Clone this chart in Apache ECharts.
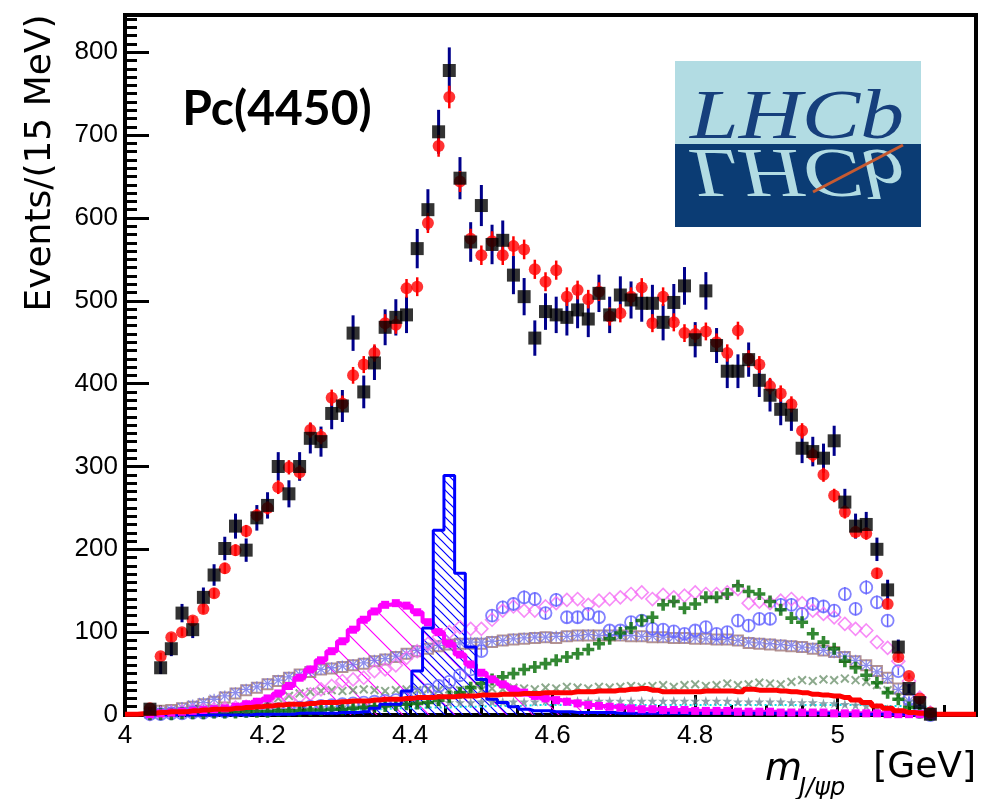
<!DOCTYPE html>
<html>
<head>
<meta charset="utf-8">
<title>Pc(4450) – m(J/ψp)</title>
<script src="https://cdn.jsdelivr.net/npm/echarts@6/dist/echarts.min.js"></script>
<style>
  html, body { margin: 0; padding: 0; background: #fff; }
  #chart { width: 988px; height: 799px; }
</style>
</head>
<body>
<div id="chart"></div>
<script>
// 15 MeV bins, first bin centre at 4.035 GeV
const binStart = 4.035
const binWidth = 0.015
const massBins = Array.from({ length: 74 }, (_, i) => +(binStart + binWidth * i).toFixed(4))

// data (black squares)
const dataCounts = [
  7, 57, 80, 123, 103, 142, 169, 201, 228, 199,
  238, 253, 300, 267, 300, 334, 330, 364, 373, 461,
  390, 425, 468, 480, 483, 563, 610, 704, 778, 648,
  571, 615, 568, 573, 531, 505, 455, 487, 483, 480,
  489, 478, 509, 483, 507, 501, 497, 497, 474, 498,
  518, 453, 512, 446, 415, 415, 429, 404, 386, 369,
  362, 322, 318, 310, 331, 257, 228, 230, 200, 151,
  82, 32, 15, 1
]
// total fit (red circles)
const fitTotal = [
  8, 71, 94, 100, 114, 128, 147, 177, 199, 222,
  241, 250, 275, 299, 293, 344, 336, 383, 376, 410,
  423, 437, 473, 471, 515, 517, 594, 687, 746, 644,
  575, 555, 572, 555, 566, 562, 538, 523, 537, 505,
  513, 502, 511, 481, 485, 505, 516, 473, 505, 474,
  461, 460, 463, 450, 437, 464, 430, 423, 397, 388,
  375, 343, 314, 290, 265, 245, 221, 219, 171, 134,
  70, 47, 20, 3
]
// Pc(4450) component (blue hatched)
const pc4450 = [
  0, 0, 0, 0, 0, 0, 0, 0, 0, 0,
  1, 1, 1, 1, 2, 2, 2, 2, 3, 3,
  4, 8, 13, 13, 29, 53, 105, 223, 289, 171,
  82, 43, 19, 15, 10, 7, 5, 5, 4, 4,
  3, 3, 3, 3, 2, 2, 2, 2, 2, 2,
  2, 2, 2, 2, 2, 2, 2, 2, 2, 2,
  2, 2, 2, 2, 1, 1, 1, 1, 1, 1,
  1, 1, 1, 0
]
// Pc(4380) component (magenta hatched)
const pc4380 = [
  1, 2, 3, 4, 5, 6, 7, 8, 10, 13,
  16, 20, 26, 35, 45, 55, 66, 77, 89, 103,
  115, 125, 133, 135, 132, 124, 112, 100, 86, 73,
  61, 51, 43, 37, 31, 27, 23, 20, 18, 16,
  14, 12, 11, 10, 9, 8, 7, 7, 6, 6,
  6, 5, 5, 5, 5, 4, 4, 4, 4, 3,
  3, 3, 3, 3, 2, 2, 2, 2, 2, 1,
  1, 1, 1, 0
]
// Lambda* components
const greenCross = [
  1, 1, 1, 2, 2, 2, 3, 3, 3, 4,
  4, 4, 5, 5, 5, 6, 6, 7, 7, 8,
  9, 10, 11, 12, 13, 14, 15, 18, 22, 27,
  33, 38, 43, 46, 50, 55, 58, 62, 66, 70,
  74, 79, 86, 92, 99, 105, 114, 118, 133, 137,
  129, 134, 142, 142, 146, 156, 149, 146, 137, 127,
  117, 112, 98, 88, 80, 65, 57, 48, 39, 27,
  19, 9, 3, 0
]
const blueCircle = [
  1, 1, 2, 2, 3, 3, 4, 4, 5, 5,
  6, 6, 7, 8, 9, 10, 11, 12, 13, 14,
  15, 16, 17, 18, 20, 25, 30, 35, 40, 48,
  55, 77, 120, 130, 134, 142, 140, 123, 139, 118,
  118, 122, 118, 102, 102, 112, 114, 104, 103, 101,
  98, 102, 106, 98, 100, 114, 108, 116, 116, 133,
  133, 122, 134, 131, 126, 146, 128, 154, 136, 114,
  53, 19, 4, 0
]
const pinkDiamond = [
  1, 2, 3, 4, 5, 6, 7, 8, 9, 10,
  12, 14, 16, 18, 22, 25, 31, 35, 41, 43,
  45, 53, 55, 60, 69, 77, 86, 94, 100, 106,
  104, 104, 115, 126, 131, 126, 126, 131, 135, 139,
  140, 133, 138, 140, 142, 146, 148, 140, 145, 142,
  144, 148, 146, 146, 148, 152, 135, 137, 135, 138,
  140, 135, 126, 122, 118, 110, 104, 102, 88, 81,
  65, 41, 21, 3
]
const brownSquare = [
  3, 5, 6, 8, 10, 13, 16, 21, 26, 30,
  33, 37, 41, 45, 49, 52, 55, 56, 58, 60,
  62, 65, 67, 70, 74, 77, 80, 83, 85, 86,
  86, 86, 88, 90, 91, 92, 93, 94, 93, 95,
  96, 96, 96, 96, 96, 95, 95, 94, 94, 93,
  93, 92, 92, 91, 91, 90, 87, 86, 85, 84,
  83, 82, 80, 78, 76, 70, 65, 60, 53, 45,
  32, 18, 8, 1
]
const violetStar = [
  2, 4, 6, 9, 12, 15, 19, 23, 27, 31,
  34, 38, 42, 46, 49, 53, 55, 57, 59, 61,
  63, 66, 68, 71, 74, 78, 81, 84, 86, 87,
  88, 88, 89, 90, 92, 93, 94, 94, 95, 95,
  96, 97, 96, 97, 96, 96, 95, 95, 94, 94,
  93, 93, 92, 91, 91, 90, 88, 87, 86, 85,
  84, 82, 81, 78, 75, 71, 66, 60, 52, 44,
  31, 17, 7, 1
]
const grayCross = [
  2, 3, 4, 5, 6, 7, 8, 9, 10, 12,
  14, 17, 20, 23, 26, 28, 29, 30, 29, 30,
  31, 30, 29, 30, 31, 30, 31, 30, 31, 30,
  31, 30, 32, 31, 33, 32, 31, 33, 32, 34,
  33, 32, 34, 33, 34, 35, 34, 35, 36, 34,
  36, 37, 35, 36, 38, 36, 37, 39, 38, 37,
  40, 42, 41, 43, 42, 44, 42, 40, 36, 30,
  22, 14, 6, 1
]
const nonResonant = [
  2, 3, 4, 4, 5, 6, 7, 7, 8, 9,
  10, 11, 12, 13, 13, 14, 15, 15, 16, 17,
  17, 18, 19, 19, 20, 21, 21, 22, 22, 23,
  23, 24, 24, 25, 25, 26, 26, 27, 27, 27,
  28, 28, 29, 29, 30, 31, 32, 30, 28, 28,
  28, 28, 29, 29, 29, 28, 31, 30, 30, 29,
  28, 27, 25, 24, 23, 21, 18, 15, 11, 8,
  5, 3, 2, 1
]
const grayStar = [
  1, 1, 2, 2, 3, 3, 4, 4, 5, 5,
  6, 6, 7, 7, 8, 8, 9, 9, 10, 10,
  11, 11, 12, 12, 13, 13, 14, 14, 15, 15,
  15, 16, 16, 16, 16, 16, 16, 17, 17, 17,
  17, 17, 17, 17, 17, 17, 17, 17, 17, 17,
  17, 17, 17, 17, 17, 16, 16, 16, 16, 16,
  15, 15, 15, 14, 14, 13, 12, 11, 9, 7,
  5, 3, 1, 0
]
const cyanLine = [
  0, 0, 1, 1, 1, 2, 2, 2, 3, 3,
  3, 4, 4, 4, 5, 5, 5, 6, 6, 6,
  7, 7, 7, 8, 8, 8, 9, 9, 9, 10,
  10, 10, 11, 11, 11, 11, 12, 12, 12, 12,
  12, 12, 12, 12, 12, 12, 12, 12, 12, 12,
  12, 12, 12, 12, 12, 12, 12, 12, 12, 12,
  12, 12, 12, 12, 12, 12, 12, 12, 11, 11,
  11, 11, 10, 10
]

const xTickLabels = ['4', '4.2', '4.4', '4.6', '4.8', '5']
const yTickLabels = ['0', '100', '200', '300', '400', '500', '600', '700', '800']

function pairs(values) {
  return massBins.map((m, i) => [m, values[i]])
}

// red fit line reaches the frame on both sides
const nonResonantLine = [[4.0, 1]].concat(pairs(nonResonant), [[5.194, 1]])

function hatch(size, color) {
  const c = document.createElement('canvas')
  c.width = size
  c.height = size
  const ctx = c.getContext('2d')
  ctx.strokeStyle = color
  ctx.lineWidth = 1.2
  ctx.beginPath()
  ctx.moveTo(-1, -1); ctx.lineTo(size + 1, size + 1)
  ctx.moveTo(-1, size - 1); ctx.lineTo(1, size + 1)
  ctx.moveTo(size - 1, -1); ctx.lineTo(size + 1, 1)
  ctx.stroke()
  return { image: c, repeat: 'repeat' }
}

function errorBars(values, scale, color, width, z) {
  return {
    type: 'custom',
    z: z,
    silent: true,
    clip: true,
    renderItem(params, api) {
      const a = api.coord([api.value(0), api.value(2)])
      const b = api.coord([api.value(0), api.value(1)])
      return {
        type: 'line',
        shape: { x1: a[0], y1: a[1], x2: b[0], y2: b[1] },
        style: { stroke: color, lineWidth: width }
      }
    },
    encode: { x: 0, y: [1, 2] },
    data: values.map((v, i) => {
      const e = Math.sqrt(v) * scale
      return [massBins[i], v - e, v + e]
    })
  }
}

function markers(values, symbol, size, style, z, rotate) {
  return {
    type: 'scatter',
    z: z,
    silent: true,
    symbol: symbol,
    symbolSize: size,
    symbolRotate: rotate || 0,
    itemStyle: style,
    data: pairs(values)
  }
}

const plusPath = 'path://M3.5,0H6.5V3.5H10V6.5H6.5V10H3.5V6.5H0V3.5H3.5Z'
const thinPlusPath = 'path://M4.1,0H5.9V4.1H10V5.9H5.9V10H4.1V5.9H0V4.1H4.1Z'
const asteriskPath = 'path://M4.4,0H5.6V10H4.4Z M0,4.4H10V5.6H0Z M1.2,0.4L9.6,8.8L8.8,9.6L0.4,1.2Z M8.8,0.4L9.6,1.2L1.2,9.6L0.4,8.8Z'
const starPath = 'path://M5,0L6.2,3.6L10,3.6L6.9,5.9L8.1,9.5L5,7.3L1.9,9.5L3.1,5.9L0,3.6L3.8,3.6Z'

const tickFont = '"Liberation Sans", Arial, sans-serif'

const chart = echarts.init(document.getElementById('chart'))

chart.setOption({
  animation: false,
  backgroundColor: '#fff',
  grid: {
    left: 125, right: 12, top: 15, bottom: 84,
    show: true, borderColor: '#000', borderWidth: 4
  },
  xAxis: [
    {
      type: 'value', min: 4, max: 5.194, interval: 0.2,
      axisLine: { lineStyle: { color: '#000', width: 4 } },
      axisTick: { inside: true, length: 20, lineStyle: { color: '#000', width: 3 } },
      axisLabel: {
        color: '#000', fontSize: 26, fontFamily: tickFont, margin: 8,
        showMaxLabel: false,
        formatter: v => {
          const s = String(+v.toFixed(1))
          return xTickLabels.includes(s) ? s : ''
        }
      },
      splitLine: { show: false }
    },
    {
      // minor ticks every 50 MeV
      type: 'value', min: 4, max: 5.194, interval: 0.05, position: 'bottom',
      axisLine: { show: false },
      axisTick: { inside: true, length: 10, lineStyle: { color: '#000', width: 3 } },
      axisLabel: { show: false },
      splitLine: { show: false }
    }
  ],
  yAxis: [
    {
      type: 'value', min: 0, max: 845, interval: 100,
      axisLine: { show: true, lineStyle: { color: '#000', width: 4 } },
      axisTick: { show: true, inside: true, length: 24, lineStyle: { color: '#000', width: 3 } },
      axisLabel: {
        color: '#000', fontSize: 26, fontFamily: tickFont, margin: 7,
        showMaxLabel: false,
        formatter: v => (yTickLabels.includes(String(v)) ? String(v) : '')
      },
      splitLine: { show: false }
    },
    {
      // minor ticks every 10 events
      type: 'value', min: 0, max: 845, interval: 10, position: 'left',
      axisLine: { show: false },
      axisTick: { show: true, inside: true, length: 12, lineStyle: { color: '#000', width: 3 } },
      axisLabel: { show: false },
      splitLine: { show: false }
    }
  ],
  series: [
    {
      type: 'line', z: 1, silent: true, step: 'middle', symbol: 'none',
      lineStyle: { width: 0 },
      areaStyle: { color: hatch(26, '#ff00ff'), opacity: 1 },
      data: pairs(pc4380)
    },
    {
      type: 'line', z: 1, silent: true, step: 'middle', symbol: 'none',
      lineStyle: { width: 0 },
      areaStyle: { color: hatch(9, '#0000ff'), opacity: 1 },
      data: pairs(pc4450)
    },
    {
      type: 'line', z: 2, silent: true, symbol: 'none',
      lineStyle: { color: '#00e0ea', width: 2, type: [2, 3] },
      data: pairs(cyanLine)
    },
    markers(grayStar, starPath, 10, { color: '#6f8b95' }, 2),
    markers(grayCross, thinPlusPath, 11, { color: '#6f946f' }, 3, 45),
    markers(brownSquare, 'rect', 10, { color: 'rgba(0,0,0,0)', borderColor: '#a07878', borderWidth: 2 }, 3),
    markers(violetStar, asteriskPath, 11, { color: '#7272e8' }, 3),
    markers(pinkDiamond, 'diamond', 13, { color: 'rgba(0,0,0,0)', borderColor: '#f56ef5', borderWidth: 1.6 }, 4),
    errorBars(blueCircle, 0.7, '#6464ff', 1.5, 4),
    markers(blueCircle, 'circle', 12, { color: 'rgba(0,0,0,0)', borderColor: '#6464ff', borderWidth: 1.8 }, 4),
    markers(greenCross, plusPath, 12, { color: '#006a00' }, 5),
    {
      type: 'line', z: 6, silent: true, step: 'middle',
      symbol: 'rect', symbolSize: 8, showSymbol: true,
      itemStyle: { color: '#ff00ff' },
      lineStyle: { color: '#ff00ff', width: 4 },
      data: pairs(pc4380)
    },
    {
      type: 'line', z: 6, silent: true, step: 'middle', symbol: 'none',
      lineStyle: { color: '#0000ff', width: 3 },
      data: pairs(pc4450)
    },
    {
      type: 'line', z: 7, silent: true, step: 'middle', symbol: 'none',
      lineStyle: { color: '#ff0000', width: 5 },
      data: nonResonantLine
    },
    errorBars(dataCounts, 1, '#00008b', 3, 8),
    errorBars(fitTotal, 0.5, '#ff0000', 2.5, 9),
    markers(fitTotal, 'circle', 12, { color: '#ff0000' }, 9),
    markers(dataCounts, 'rect', 13, { color: '#000' }, 10)
  ],
  graphic: [
    {
      type: 'text', x: 41, y: 163, rotation: Math.PI / 2, silent: true,
      style: {
        text: 'Events/(15 MeV)', font: '36px "DejaVu Sans", sans-serif', fill: '#000',
        align: 'center', verticalAlign: 'middle', textAlign: 'center', textVerticalAlign: 'middle'
      }
    },
    {
      type: 'text', x: 765, y: 770, silent: true,
      style: {
        text: 'm', font: 'italic 38px "DejaVu Sans", sans-serif', fill: '#000',
        align: 'left', verticalAlign: 'middle', textAlign: 'left', textVerticalAlign: 'middle'
      }
    },
    {
      type: 'text', x: 799, y: 789, silent: true,
      style: {
        text: 'J/ψp', font: 'italic 24px "DejaVu Sans", sans-serif', fill: '#000',
        align: 'left', verticalAlign: 'middle', textAlign: 'left', textVerticalAlign: 'middle'
      }
    },
    {
      type: 'text', x: 976, y: 768, silent: true,
      style: {
        text: '[GeV]', font: '36px "DejaVu Sans", sans-serif', fill: '#000',
        align: 'right', verticalAlign: 'middle', textAlign: 'right', textVerticalAlign: 'middle'
      }
    },
    {
      type: 'text', x: 277, y: 110, silent: true,
      style: {
        text: 'Pc(4450)', font: 'bold 48px Lato, "Open Sans", sans-serif', fill: '#000',
        align: 'center', verticalAlign: 'middle', textAlign: 'center', textVerticalAlign: 'middle'
      }
    },
    // LHCb logo
    { type: 'rect', silent: true, shape: { x: 675, y: 61, width: 246, height: 83 }, style: { fill: '#b2dce3' } },
    { type: 'rect', silent: true, shape: { x: 675, y: 144, width: 246, height: 83 }, style: { fill: '#0b3c74' } },
    {
      type: 'text', x: 690, y: 120, scaleX: 1.25, silent: true,
      style: {
        text: 'LHCb', font: 'italic 70px "Liberation Serif", serif', fill: '#163f7c',
        align: 'left', verticalAlign: 'middle', textAlign: 'left', textVerticalAlign: 'middle'
      }
    },
    {
      type: 'text', x: 690, y: 168, scaleX: 1.25, scaleY: -1, silent: true,
      style: {
        text: 'LHCb', font: 'italic 70px "Liberation Serif", serif', fill: '#b2dce3',
        align: 'left', verticalAlign: 'middle', textAlign: 'left', textVerticalAlign: 'middle'
      }
    },
    {
      type: 'line', silent: true,
      shape: { x1: 813, y1: 192, x2: 903, y2: 145 },
      style: { stroke: '#c65a31', lineWidth: 3 }
    }
  ]
})
</script>
</body>
</html>
